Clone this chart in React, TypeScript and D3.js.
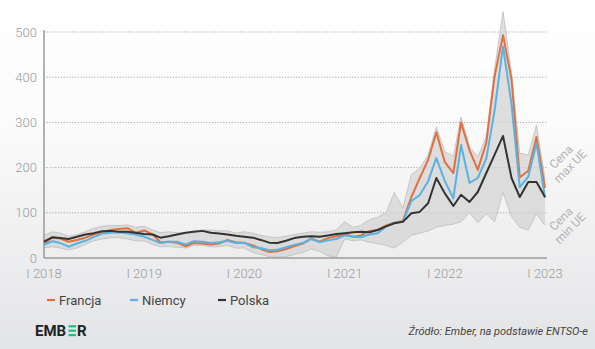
import React from "react";
import * as d3 from "d3";

// Monthly wholesale electricity prices, EUR/MWh, Jan 2018 – Jan 2023
const startMonth = new Date(2018, 0, 1);
const endMonth = new Date(2023, 0, 1);

const francja = [
  33, 45, 43, 36, 40, 45, 52, 57, 62, 64, 66, 56,
  61, 52, 35, 36, 34, 26, 33, 32, 30, 32, 40, 35,
  33, 28, 20, 13, 15, 20, 26, 32, 43, 36, 44, 48,
  53, 47, 50, 60, 62, 72, 78, 82, 135, 176, 217, 278,
  212, 188, 300, 238, 195, 255, 401, 493, 395, 178, 193, 268,
  155,
];

const niemcy = [
  30, 37, 33, 25, 32, 38, 46, 54, 56, 57, 55, 52,
  47, 40, 33, 36, 36, 30, 37, 36, 33, 35, 38, 33,
  34, 24, 22, 17, 18, 24, 29, 33, 42, 35, 39, 42,
  50, 47, 46, 52, 55, 70, 78, 80, 126, 139, 170, 221,
  170, 132, 250, 166, 177, 220, 325, 468, 340, 157, 180, 254,
  133,
];

const polska = [
  36, 46, 44, 42, 47, 52, 55, 59, 60, 58, 58, 56,
  53, 52, 45, 48, 52, 56, 58, 60, 56, 54, 52, 49,
  47, 45, 40, 34, 33, 38, 44, 47, 48, 47, 50, 53,
  55, 57, 58, 57, 62, 70, 77, 80, 99, 102, 121, 177,
  143, 115, 140, 124, 146, 188, 228, 270, 177, 135, 168, 168,
  135,
];

// EU-wide monthly maximum and minimum
const maxUE = [
  50, 58, 55, 48, 52, 58, 66, 70, 72, 72, 73, 68,
  70, 62, 56, 58, 56, 55, 60, 62, 62, 60, 60, 55,
  58, 55, 50, 47, 45, 48, 52, 55, 58, 57, 58, 62,
  80, 68, 72, 85, 90, 100, 145, 110, 185, 198, 228, 290,
  235, 225, 312, 246, 224, 268, 416, 545, 409, 232, 228, 294,
  175,
];

const minUE = [
  22, 25, 22, 18, 22, 30, 38, 42, 45, 45, 42, 38,
  38, 30, 25, 25, 24, 22, 28, 28, 25, 25, 28, 22,
  22, 12, 8, 3, 2, 3, 8, 12, 20, 15, 5, 2,
  42, 38, 40, 35, 32, 28, 22, 35, 50, 55, 60, 68,
  72, 75, 80, 100, 78, 98, 80, 145, 92, 68, 62, 98,
  72,
];

const yTicks = [0, 100, 200, 300, 400, 500];
const yearTicks = [2018, 2019, 2020, 2021, 2022, 2023];

const series = [
  { name: "Francja", values: francja, color: "#e2703f" },
  { name: "Niemcy", values: niemcy, color: "#5ab2e3" },
  { name: "Polska", values: polska, color: "#333333" },
];

const W = 595;
const H = 349;

export default function App() {
  const months = d3.timeMonth.range(startMonth, d3.timeMonth.offset(endMonth, 1));

  const x = d3.scaleTime().domain([startMonth, endMonth]).range([44, 545]);
  const y = d3.scaleLinear().domain([0, 500]).range([258, 32]);

  const band = d3
    .area<number>()
    .x((_, i) => x(months[i]))
    .y0((_, i) => y(minUE[i]))
    .y1((d) => y(d))
    .curve(d3.curveLinear);

  const edge = d3
    .line<number>()
    .x((_, i) => x(months[i]))
    .y((d) => y(d));

  const line = d3
    .line<number>()
    .x((_, i) => x(months[i]))
    .y((d) => y(d))
    .curve(d3.curveLinear);

  const tickFont = "Roboto, 'DejaVu Sans', sans-serif";

  return (
    <svg
      width={W}
      height={H}
      style={{ position: "absolute", left: 0, top: 0, display: "block" }}
      xmlns="http://www.w3.org/2000/svg"
    >
      <defs>
        <linearGradient id="bg" x1="0" y1="0" x2="0" y2="1">
          <stop offset="0" stopColor="#ffffff" />
          <stop offset="0.35" stopColor="#fbfbfb" />
          <stop offset="1" stopColor="#e3e4e6" />
        </linearGradient>
      </defs>
      <rect x={0} y={0} width={W} height={H} fill="url(#bg)" />

      {/* horizontal dotted gridlines */}
      {yTicks
        .filter((t) => t > 0)
        .map((t) => (
          <line
            key={t}
            x1={44}
            x2={548}
            y1={y(t)}
            y2={y(t)}
            stroke="#a9a9a9"
            strokeWidth={1}
            strokeDasharray="1.2 1.6"
          />
        ))}

      {/* y tick labels */}
      {yTicks.map((t) => (
        <text
          key={t}
          x={37}
          y={y(t) + 4.5}
          textAnchor="end"
          fontFamily={tickFont}
          fontWeight={300}
          fontSize={13}
          fill="#9b9b9b"
        >
          {t}
        </text>
      ))}

      {/* min–max EU range */}
      <path d={band(maxUE) ?? ""} fill="#d3d3d3" fillOpacity={0.72} />
      <path d={edge(maxUE) ?? ""} fill="none" stroke="#c2c2c2" strokeWidth={0.9} />
      <path d={edge(minUE) ?? ""} fill="none" stroke="#c2c2c2" strokeWidth={0.9} />

      {/* axes */}
      <line x1={44} x2={44} y1={30} y2={258} stroke="#9a9a9a" strokeWidth={1.5} />
      <line x1={44} x2={547} y1={258} y2={258} stroke="#9a9a9a" strokeWidth={1.5} />

      {/* price lines */}
      {series.map((s) => (
        <path
          key={s.name}
          d={line(s.values) ?? ""}
          fill="none"
          stroke={s.color}
          strokeWidth={2}
          strokeLinejoin="round"
        />
      ))}

      {/* year labels */}
      {yearTicks.map((yr) => (
        <text
          key={yr}
          x={x(new Date(yr, 0, 1))}
          y={278}
          textAnchor="middle"
          fontFamily={tickFont}
          fontWeight={300}
          fontSize={13}
          fill="#9b9b9b"
        >
          {`I ${yr}`}
        </text>
      ))}

      {/* range annotations */}
      <g
        transform="translate(566,162) rotate(-45)"
        fontFamily={tickFont}
        fontSize={12}
        fill="#b3b3b3"
        textAnchor="middle"
      >
        <text x={0} y={-3}>Cena</text>
        <text x={0} y={10}>max UE</text>
      </g>
      <g
        transform="translate(566,224) rotate(-45)"
        fontFamily={tickFont}
        fontSize={12}
        fill="#b3b3b3"
        textAnchor="middle"
      >
        <text x={0} y={-3}>Cena</text>
        <text x={0} y={10}>min UE</text>
      </g>

      {/* legend */}
      {series.map((s, i) => {
        const lx = [47, 130, 218][i];
        return (
          <g key={s.name}>
            <line x1={lx} x2={lx + 8} y1={300} y2={300} stroke={s.color} strokeWidth={2.2} />
            <text
              x={lx + 12}
              y={304.5}
              fontFamily={tickFont}
              fontSize={13}
              fill="#444"
            >
              {s.name}
            </text>
          </g>
        );
      })}

      {/* logo */}
      <g fontFamily="Roboto, 'DejaVu Sans', sans-serif" fontWeight={700} fontSize={15} fill="#222">
        <text x={35} y={336}>EMB</text>
        <rect x={68.5} y={325.2} width={7.5} height={2.2} fill="#1fbf82" />
        <rect x={68.5} y={329.6} width={7.5} height={2.2} fill="#1fbf82" />
        <rect x={68.5} y={334} width={7.5} height={2.2} fill="#1fbf82" />
        <text x={77} y={336}>R</text>
      </g>

      {/* source */}
      <text
        x={588}
        y={335}
        textAnchor="end"
        fontFamily={tickFont}
        fontStyle="italic"
        fontSize={11}
        fill="#444"
      >
        Źródło: Ember, na podstawie ENTSO-e
      </text>
    </svg>
  );
}
